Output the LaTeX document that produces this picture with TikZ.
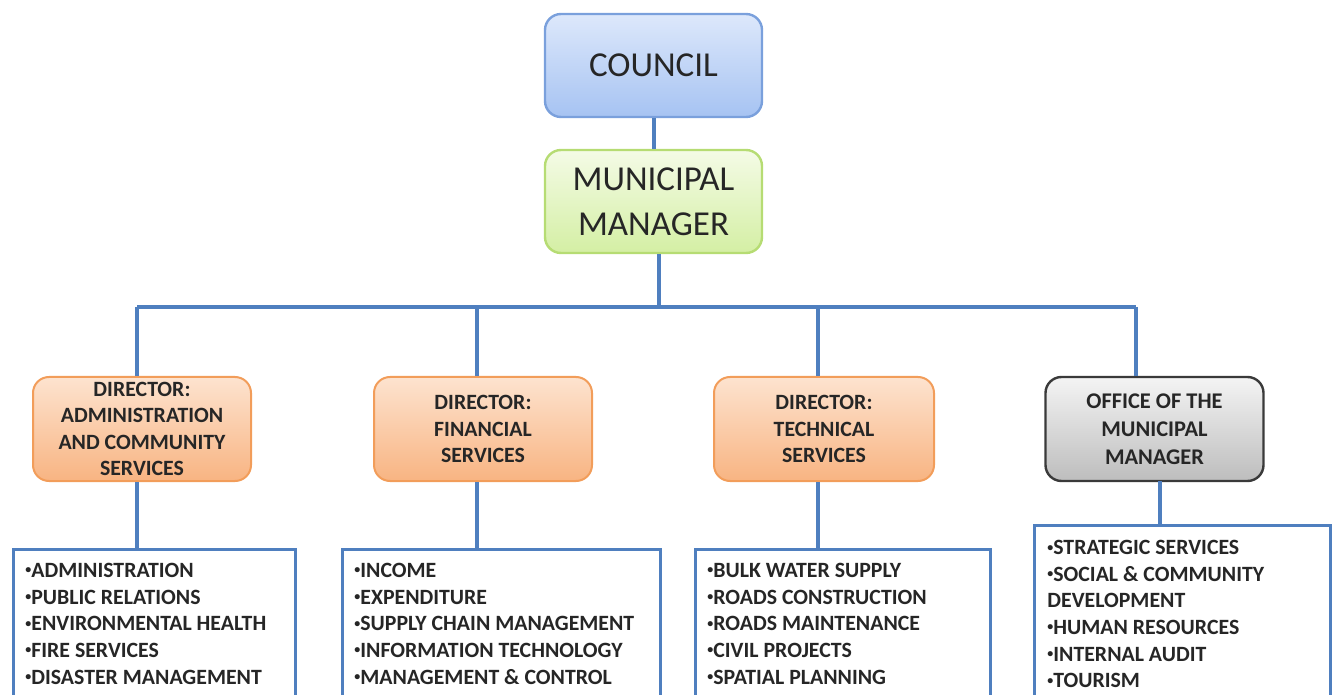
\documentclass[tikz,border=0pt]{standalone}
\usepackage{graphicx}
\usepackage{fontspec}
\setmainfont{Carlito}
\newcommand{\lbul}{\raisebox{0.35ex}{\scalebox{0.55}{\textbullet}}}
\definecolor{linec}{HTML}{4F7FBF}
\definecolor{cTop}{HTML}{DDE8FB}
\definecolor{cBot}{HTML}{A6C3F2}
\definecolor{cLine}{HTML}{7AA0DC}
\definecolor{mTop}{HTML}{F4FBE6}
\definecolor{mBot}{HTML}{D4EFA4}
\definecolor{mLine}{HTML}{B6DC73}
\definecolor{orTop}{HTML}{FDE3CF}
\definecolor{orBot}{HTML}{F8B482}
\definecolor{orLine}{HTML}{F29D5A}
\definecolor{gTop}{HTML}{F4F4F4}
\definecolor{gBot}{HTML}{BDBDBD}
\definecolor{gLine}{HTML}{3A3A3A}
\definecolor{txt}{HTML}{262626}
\begin{document}
\begin{tikzpicture}[x=0.5pt,y=-0.5pt,
 conn/.style={draw=linec, line width=2pt},
 topbox/.style={rounded corners=8pt, line width=1.2pt, minimum width=108.5pt, minimum height=51.5pt,
   align=center, font=\fontsize{17.5}{22.5}\selectfont, inner sep=0pt, text=txt},
 dirbox/.style={rounded corners=8pt, line width=1pt, minimum width=109pt, minimum height=52pt,
   align=center, font=\bfseries\fontsize{10.9}{13.2}\selectfont, inner sep=0pt, text=txt,
   top color=orTop, bottom color=orBot, draw=orLine},
 listbox/.style={draw=linec, line width=1.7pt, fill=white, anchor=north west, inner sep=0pt},
 listtext/.style={anchor=north west, align=left, inner sep=0pt, text=txt,
   font=\bfseries\fontsize{10.9}{13.3}\selectfont}
]
\useasboundingbox (0,0) rectangle (1334,695);
\clip (0,0) rectangle (1334,695);

% bus coordinates
\coordinate (bus) at (659,307);
\coordinate (b1) at (137,307);
\coordinate (b2) at (477,307);
\coordinate (b3) at (818,307);
\coordinate (b4) at (1136,307);

% top boxes
\node[topbox, top color=cTop, bottom color=cBot, draw=cLine] (council) at (653.5,65.5) {COUNCIL};
\node[topbox, top color=mTop, bottom color=mBot, draw=mLine] (mm) at (653.5,201.5) {MUNICIPAL\\MANAGER};

% directors
\node[dirbox] (d1) at (142,429) {DIRECTOR:\\ADMINISTRATION\\AND COMMUNITY\\SERVICES};
\node[dirbox] (d2) at (483,429) {DIRECTOR:\\FINANCIAL\\SERVICES};
\node[dirbox, minimum width=110pt] (d3) at (824,429) {DIRECTOR:\\TECHNICAL\\SERVICES};
\node[dirbox, top color=gTop, bottom color=gBot, draw=gLine, line width=1.2pt,
  font=\bfseries\fontsize{11.2}{14}\selectfont] (off) at (1154.5,429) {OFFICE OF THE\\MUNICIPAL\\MANAGER};

% list boxes
\node[listbox, minimum width=141pt, minimum height=80pt] (l1) at (12,548) {};
\node[listbox, minimum width=159pt, minimum height=80pt] (l2) at (341,548) {};
\node[listbox, minimum width=147.5pt, minimum height=80pt] (l3) at (694,548) {};
\node[listbox, minimum width=148pt, minimum height=92pt] (l4) at (1033,524) {};

\node[listtext] (t1) at (25,563) {\lbul ADMINISTRATION\\\lbul PUBLIC RELATIONS\\\lbul ENVIRONMENTAL HEALTH\\\lbul FIRE SERVICES\\\lbul DISASTER MANAGEMENT};
\node[listtext] (t2) at (354,563) {\lbul INCOME\\\lbul EXPENDITURE\\\lbul SUPPLY CHAIN MANAGEMENT\\\lbul INFORMATION TECHNOLOGY\\\lbul MANAGEMENT \& CONTROL};
\node[listtext] (t3) at (707,563) {\lbul BULK WATER SUPPLY\\\lbul ROADS CONSTRUCTION\\\lbul ROADS MAINTENANCE\\\lbul CIVIL PROJECTS\\\lbul SPATIAL PLANNING};
\node[listtext] (t4) at (1047,540) {\lbul STRATEGIC SERVICES\\\lbul SOCIAL \& COMMUNITY\\DEVELOPMENT\\\lbul HUMAN RESOURCES\\\lbul INTERNAL AUDIT\\\lbul TOURISM};

% connectors
\draw[conn] (council.south) -- (mm.north);
\draw[conn] (mm.south -| bus) -- (bus);
\draw[conn] (b1) -- (b4);
\draw[conn] (b1) -- (b1 |- d1.north);
\draw[conn] (b2) -- (b2 |- d2.north);
\draw[conn] (b3) -- (b3 |- d3.north);
\draw[conn] (b4) -- (b4 |- off.north);
\draw[conn] (d1.south -| b1) -- (b1 |- l1.north);
\draw[conn] (d2.south -| b2) -- (b2 |- l2.north);
\draw[conn] (d3.south -| b3) -- (b3 |- l3.north);
\draw[conn] (1160,481) coordinate (o4) -- (o4 |- l4.north);
\end{tikzpicture}
\end{document}
